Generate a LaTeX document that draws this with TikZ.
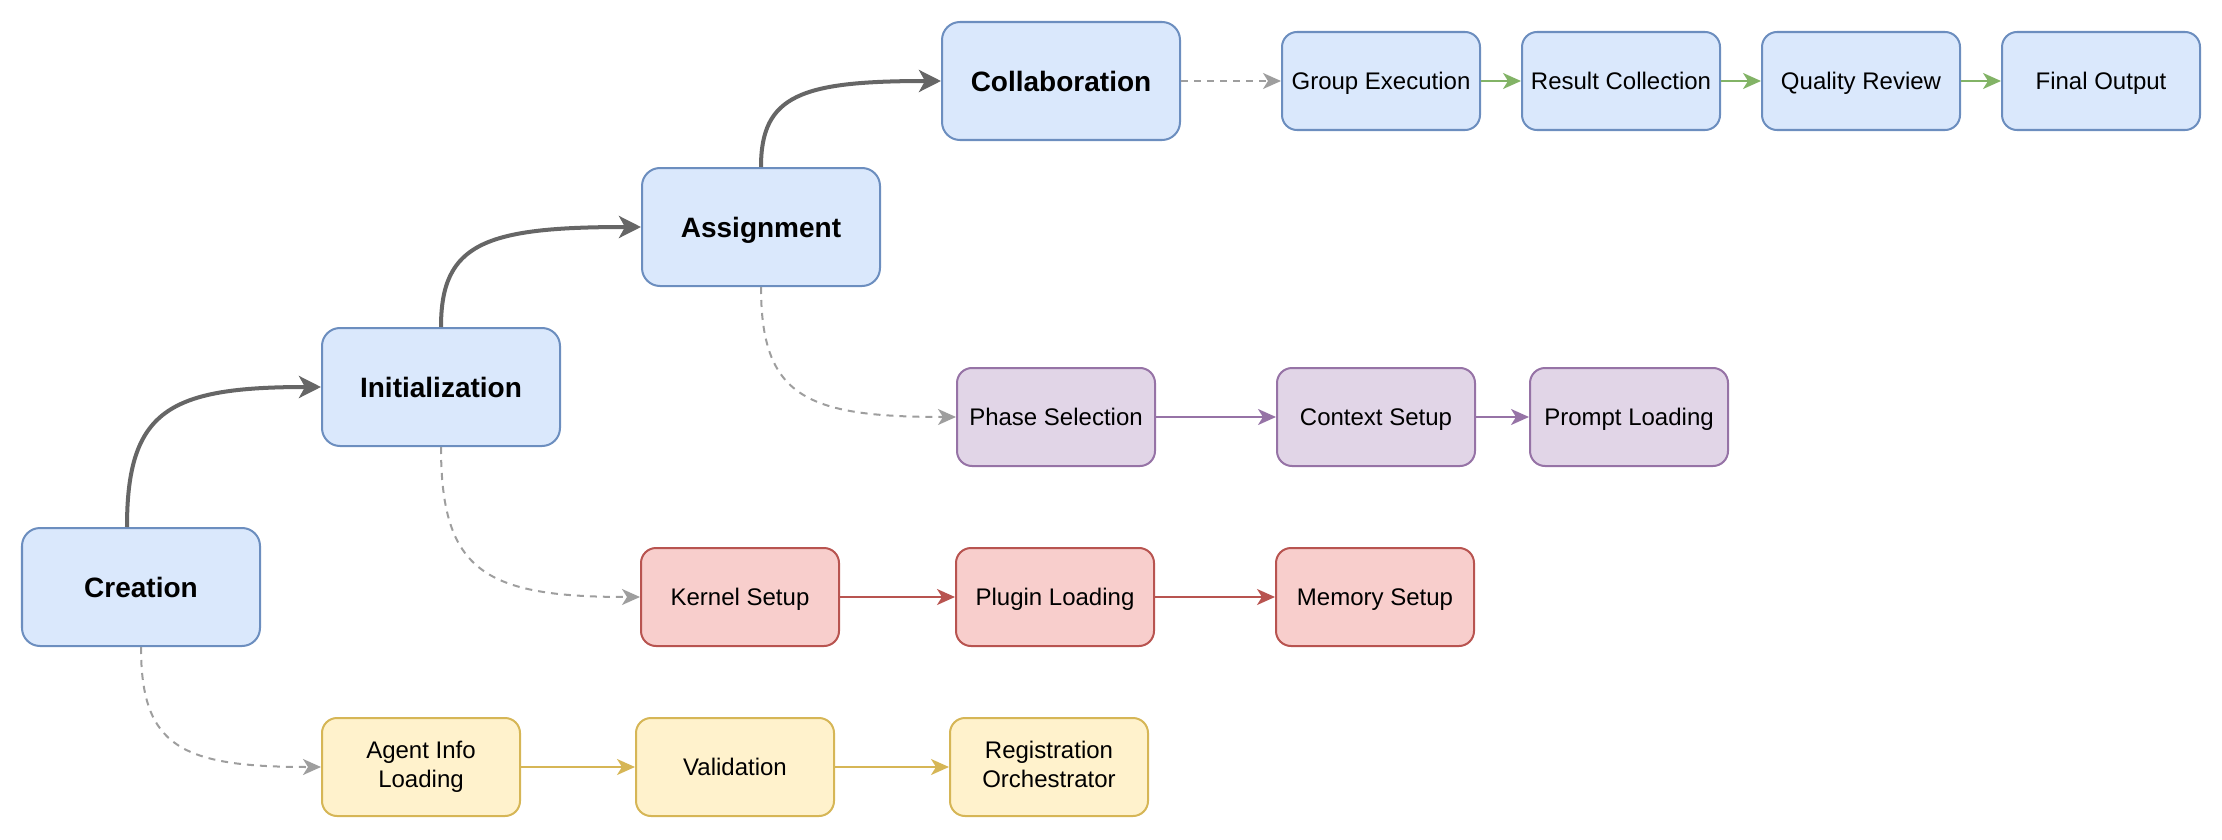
\documentclass[tikz,border=0pt]{standalone}
\usepackage{fontspec}
\setmainfont{Liberation Sans}
\usetikzlibrary{arrows.meta, positioning}
\definecolor{cBlueFill}{HTML}{DAE8FC}
\definecolor{cBlueLine}{HTML}{6C8EBF}
\definecolor{cYellowFill}{HTML}{FFF2CC}
\definecolor{cYellowLine}{HTML}{D6B656}
\definecolor{cRedFill}{HTML}{F8CECC}
\definecolor{cRedLine}{HTML}{B85450}
\definecolor{cPurpleFill}{HTML}{E1D5E7}
\definecolor{cPurpleLine}{HTML}{9673A6}
\definecolor{cGreenLine}{HTML}{82B366}
\definecolor{cDark}{HTML}{666666}
\definecolor{cDash}{HTML}{9E9E9E}
\newcommand{\capstrut}{\rule[-0.25em]{0pt}{1.216em}}
\tikzset{
    stage/.style    ={rectangle, rounded corners=0.18cm, minimum width=2.38cm, minimum height=1.18cm, align=center, draw=cBlueLine, fill=cBlueFill, line width=0.57pt, font=\fontsize{7.97}{9.6}\selectfont\bfseries, execute at begin node=\capstrut, execute at end node=\capstrut},
    substep/.style  ={rectangle, rounded corners=0.15cm, minimum width=1.98cm, minimum height=0.98cm, inner xsep=1pt, align=center, line width=0.57pt, font=\fontsize{6.83}{8.2}\selectfont, execute at begin node=\capstrut, execute at end node=\capstrut},
    bluestep/.style ={substep, draw=cBlueLine, fill=cBlueFill},
    yellowstep/.style={substep, draw=cYellowLine, fill=cYellowFill},
    redstep/.style  ={substep, draw=cRedLine, fill=cRedFill},
    purplestep/.style={substep, draw=cPurpleLine, fill=cPurpleFill},
    mainflow/.style ={-{Stealth[length=0.22cm, width=0.22cm, inset=0.06cm]}, draw=cDark, line width=1.14pt},
    dashflow/.style ={-{Stealth[length=0.18cm, width=0.16cm, inset=0.05cm]}, draw=cDash, line width=0.57pt, dash pattern=on 0.07cm off 0.06cm},
    stepflow/.style ={-{Stealth[length=0.18cm, width=0.16cm, inset=0.05cm]}, line width=0.57pt},
}
\begin{document}
\begin{tikzpicture}
    \useasboundingbox (0,0) rectangle (22.22,-8.40);
    % main stages
    \node[stage] (cre) at (1.41,-5.87) {Creation};
    \node[stage] (ini) at (4.41,-3.87) {Initialization};
    \node[stage] (asg) at (7.61,-2.27) {Assignment};
    \node[stage] (col) at (10.61,-0.81) {Collaboration};
    % collaboration row
    \node[bluestep, right=1.0cm of col] (gex) {Group Execution};
    \node[bluestep, right=0.4cm of gex] (res) {Result Collection};
    \node[bluestep, right=0.4cm of res] (qua) {Quality Review};
    \node[bluestep, right=0.4cm of qua] (fin) {Final Output};
    % assignment row
    \node[purplestep] (pha) at (10.56,-4.17) {Phase Selection};
    \node[purplestep, right=1.2cm of pha] (ctx) {Context Setup};
    \node[purplestep, right=0.53cm of ctx] (prm) {Prompt Loading};
    % initialization row
    \node[redstep] (ker) at (7.40,-5.97) {Kernel Setup};
    \node[redstep, right=1.15cm of ker] (plg) {Plugin Loading};
    \node[redstep, right=1.2cm of plg] (mem) {Memory Setup};
    % creation row
    \node[yellowstep] (agi) at (4.21,-7.67) {Agent Info\\Loading};
    \node[yellowstep, right=1.14cm of agi] (val) {Validation};
    \node[yellowstep, right=1.14cm of val] (reg) {Registration\\Orchestrator};

    % stage to stage
    \draw[mainflow] ([xshift=-0.14cm]cre.north) .. controls +(0,1.17) and +(-1.52,0) .. (ini.west);
    \draw[mainflow] (ini.north) .. controls +(0,0.84) and +(-1.56,0) .. (asg.west);
    \draw[mainflow] (asg.north) .. controls +(0,0.72) and +(-1.40,0) .. (col.west);

    % stage to its row
    \draw[dashflow] (cre.south) .. controls +(0,-1.0) and +(-1.4,0) .. (agi.west);
    \draw[dashflow] (ini.south) .. controls +(0,-1.25) and +(-1.55,0) .. (ker.west);
    \draw[dashflow] (asg.south) .. controls +(0,-1.1) and +(-1.5,0) .. (pha.west);
    \draw[dashflow] (col) -- (gex);

    \draw[stepflow, cGreenLine] (gex) -- (res);
    \draw[stepflow, cGreenLine] (res) -- (qua);
    \draw[stepflow, cGreenLine] (qua) -- (fin);
    \draw[stepflow, cPurpleLine] (pha) -- (ctx);
    \draw[stepflow, cPurpleLine] (ctx) -- (prm);
    \draw[stepflow, cRedLine] (ker) -- (plg);
    \draw[stepflow, cRedLine] (plg) -- (mem);
    \draw[stepflow, cYellowLine] (agi) -- (val);
    \draw[stepflow, cYellowLine] (val) -- (reg);
\end{tikzpicture}
\end{document}
